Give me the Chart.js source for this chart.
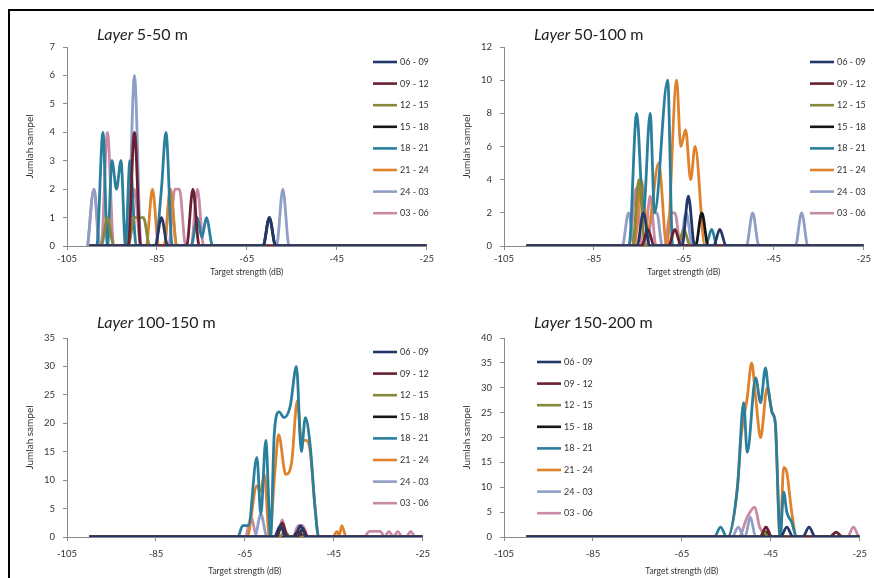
<!DOCTYPE html>
<html>
<head>
<meta charset="utf-8">
<script src="https://cdn.jsdelivr.net/npm/chart.js@4"></script>
<style>
  html, body { margin: 0; padding: 0; background: #fff; }
  #wrap { position: relative; width: 874px; height: 578px; overflow: hidden; background: #fff; }
  canvas { position: absolute; }
  #frame { position: absolute; left: 8px; top: 9px; width: 870px; height: 575px; border-top: 2px solid #000; border-left: 2px solid #000; pointer-events: none; }
</style>
</head>
<body>
<div id="wrap">
  <canvas id="c1" width="437" height="290" style="left:0;top:0"></canvas>
  <canvas id="c2" width="437" height="290" style="left:437px;top:0"></canvas>
  <canvas id="c3" width="437" height="288" style="left:0;top:290px"></canvas>
  <canvas id="c4" width="437" height="288" style="left:437px;top:290px"></canvas>
  <div id="frame"></div>
</div>
<script>
// ---------- categories / labels ----------
const seriesLabels = ['06 - 09', '09 - 12', '12 - 15', '15 - 18', '18 - 21', '21 - 24', '24 - 03', '03 - 06'];
const layerTitles = ['5-50 m', '50-100 m', '100-150 m', '150-200 m'];
const xTicks = [-105, -85, -65, -45, -25];
const yTicks1 = [0, 1, 2, 3, 4, 5, 6, 7];
const yTicks2 = [0, 2, 4, 6, 8, 10, 12];
const yTicks3 = [0, 5, 10, 15, 20, 25, 30, 35];
const yTicks4 = [0, 5, 10, 15, 20, 25, 30, 35, 40];

// ---------- Layer 5-50 m : [TS (dB), jumlah sampel] ----------
const p1_0609 = [[-100,0],[-85.4,0],[-84,1],[-82.6,0],[-61.4,0],[-60,1],[-58.6,0],[-25,0]];
const p1_0912 = [[-100,0],[-91.4,0],[-90,4],[-88.6,0],[-78.4,0],[-77,2],[-75.6,0],[-25,0]];
const p1_1215 = [[-100,0],[-97.4,0],[-96,1],[-94.6,0],[-91.4,0],[-90,1],[-89,1],[-88,1],[-86.6,0],[-25,0]];
const p1_1518 = [[-100,0],[-61.4,0],[-60,1],[-58.6,0],[-25,0]];
const p1_1821 = [[-100,0],[-98.4,0],[-97,4],[-96,0],[-95,3],[-94,2],[-93,3],[-92,0],[-91,3],[-89.6,0],[-85.4,0],[-84,2],[-83,4],[-81.6,0],[-77.4,0],[-76,1],[-75,0.3],[-74,1],[-72.6,0],[-25,0]];
const p1_2124 = [[-100,0],[-87.4,0],[-86,2],[-84.6,0],[-83.4,0],[-82,2],[-80.6,0],[-25,0]];
const p1_2403 = [[-100.4,0],[-99,2],[-97.6,0],[-91.5,0],[-90,6],[-88.5,0],[-83.4,0],[-82,2],[-80.6,0],[-58.4,0],[-57,2],[-55.6,0],[-25,0]];
const p1_0306 = [[-100.4,0],[-99,2],[-97.8,0],[-97.4,0],[-96,4],[-94.6,0],[-91.4,0],[-90,2],[-88.6,0],[-82.4,0],[-81,2],[-80,2],[-78.6,0],[-77.4,0],[-76,2],[-74.6,0],[-25,0]];

// ---------- Layer 50-100 m ----------
const p2_0609 = [[-100,0],[-75.4,0],[-74,2],[-72.6,0],[-65.4,0],[-64,3],[-62.6,0],[-58.4,0],[-57,1],[-55.6,0],[-25,0]];
const p2_0912 = [[-100,0],[-74.4,0],[-73,1],[-71.6,0],[-68.4,0],[-67,1],[-65.6,0],[-25,0]];
const p2_1215 = [[-100,0],[-76.4,0],[-75,4],[-73.6,0],[-66.4,0],[-65,1],[-63.6,0],[-25,0]];
const p2_1518 = [[-100,0],[-62.4,0],[-61,2],[-59.6,0],[-25,0]];
const p2_1821 = [[-100,0],[-77.2,0],[-75.5,8],[-74,2],[-72.5,8],[-71.5,2],[-68.6,10],[-67.5,0],[-60.2,0],[-58.8,1],[-57.6,0],[-25,0]];
const p2_2124 = [[-100,0],[-76,0],[-74.5,4],[-73,1],[-70.6,5],[-68.8,0],[-66.6,10],[-65.7,6],[-64.6,7],[-63.5,4],[-62.5,6],[-60.3,0],[-25,0]];
const p2_2403 = [[-100,0],[-78.7,0],[-77.3,2],[-75.9,0],[-73.2,0],[-72,2],[-71,2],[-69.8,0],[-65.9,0],[-64.5,2],[-63.1,0],[-51.1,0],[-49.7,2],[-48.3,0],[-40.2,0],[-38.8,2],[-37.4,0],[-25,0]];
const p2_0306 = [[-100,0],[-77.2,0],[-75.6,3.5],[-74.3,0],[-73.8,0],[-72.5,3],[-71.2,0],[-69.3,0],[-68,2],[-67,2],[-65.7,0],[-25,0]];

// ---------- Layer 100-150 m ----------
const p3_0609 = [[-100,0],[-58.4,0],[-57,2],[-55.8,0],[-53.8,0],[-52.5,2],[-51.2,0],[-25,0]];
const p3_0912 = [[-100,0],[-57.8,0],[-56.6,2.5],[-55.4,0],[-53.2,0],[-52,1.5],[-50.8,0],[-25,0]];
const p3_1215 = [[-100,0],[-57.2,0],[-56,1],[-54.8,0],[-25,0]];
const p3_1518 = [[-100,0],[-54.2,0],[-53,1],[-51.8,0],[-25,0]];
const p3_1821 = [[-100,0],[-66.6,0],[-65.5,2],[-64.2,2],[-62.3,14],[-61.4,4],[-60.3,17],[-59.2,0],[-58.4,18],[-57.3,22],[-56.2,21],[-54.8,23],[-53.4,30],[-52.3,15],[-51.4,21],[-50.3,16],[-49.2,5],[-48.4,0],[-25,0]];
const p3_2124 = [[-100,0],[-64.5,0],[-62.3,9],[-61.5,8],[-60.6,11],[-59.5,0],[-58.2,12],[-57.4,18],[-55.8,11],[-54.5,13],[-53.2,24],[-52.3,17],[-51.2,17],[-50.3,15],[-49.2,5],[-48.4,0],[-45.2,0],[-44.3,1],[-43.8,0.3],[-43.2,2],[-42.2,0],[-25,0]];
const p3_2403 = [[-100,0],[-62.8,0],[-61.4,4],[-60,0],[-25,0]];
const p3_0306 = [[-100,0],[-64.9,0],[-63.6,3.5],[-62.3,0],[-57.8,0],[-56.6,3],[-55.4,0],[-54.2,0],[-53,2],[-52,2],[-50.8,0],[-38.2,0],[-37,1],[-34.5,1],[-33.6,0],[-32.6,1],[-31.6,0],[-30.6,1],[-29.6,0],[-28.7,0],[-27.7,1],[-26.7,0],[-25,0]];

// ---------- Layer 150-200 m ----------
const p4_0609 = [[-100,0],[-42.8,0],[-41.4,2],[-40,0],[-37.8,0],[-36.4,2],[-35,0],[-25,0]];
const p4_0912 = [[-100,0],[-47.4,0],[-46.1,2],[-44.8,0],[-31.7,0],[-30.3,1],[-28.9,0],[-25,0]];
const p4_1215 = [[-100,0],[-47.4,0],[-46.5,1],[-45.6,0],[-25,0]];
const p4_1518 = [[-100,0],[-47.2,0],[-46,1],[-44.8,0],[-25,0]];
const p4_1821 = [[-100,0],[-57.7,0],[-56.3,2],[-54.9,0],[-54.7,0],[-52.5,10],[-51.1,27],[-50.3,17],[-48.4,32],[-47.3,27],[-46.2,34],[-45.6,30],[-44.7,25],[-44,23],[-42.9,0],[-42.1,9],[-41.4,5],[-40.3,3],[-39.2,0],[-25,0]];
const p4_2124 = [[-100,0],[-54.7,0],[-52.5,10],[-51.7,20],[-50.3,28],[-49.3,35],[-48.4,28],[-47.3,20],[-45.8,30],[-44.7,25],[-44,23],[-42.9,0],[-42.1,14],[-41.4,13],[-40.3,5],[-39.2,0],[-25,0]];
const p4_2403 = [[-100,0],[-53.7,0],[-52.3,2],[-51,0],[-50.8,0],[-49.6,4],[-48.4,0],[-25,0]];
const p4_0306 = [[-100,0],[-52.2,0],[-50.3,4],[-48.6,6],[-47.5,2],[-46.6,1],[-46,2],[-44.8,0],[-27.8,0],[-26.4,2],[-25.1,0],[-25,0]];

// ---------- styling ----------
const COLORS = ['#22386a', '#6a2030', '#86883c', '#161616', '#2a7f9c', '#e0822c', '#8f9ec6', '#c98aa6'];
const FONT = 'Lato, "Open Sans", sans-serif';
const TXT = '#333';
const AX = '#8a8a8a';

const overlay = {
  id: 'overlay',
  afterDraw(chart, args, o) {
    const ctx = chart.ctx;
    ctx.save();
    ctx.fillStyle = '#222';
    ctx.textBaseline = 'middle';
    ctx.textAlign = 'left';
    ctx.font = 'italic 16px ' + FONT;
    ctx.fillText('Layer', o.titleX, o.titleY);
    const w = ctx.measureText('Layer ').width;
    ctx.font = '16px ' + FONT;
    ctx.fillText(o.range, o.titleX + w, o.titleY);
    ctx.font = '9px ' + FONT;
    ctx.fillStyle = TXT;
    chart.data.datasets.forEach((ds, i) => {
      const y = o.legY + i * o.legStep;
      ctx.strokeStyle = ds.borderColor;
      ctx.lineWidth = 2.6;
      ctx.beginPath();
      ctx.moveTo(o.legX, y);
      ctx.lineTo(o.legX + 24, y);
      ctx.stroke();
      ctx.fillText(ds.label, o.legX + 27, y);
    });
    ctx.restore();
  }
};

function makeChart(id, range, series, yTicks, geo) {
  const yMax = yTicks[yTicks.length - 1];
  return new Chart(document.getElementById(id), {
    type: 'line',
    data: {
      datasets: series.map((s, i) => ({
        label: seriesLabels[i],
        data: s.map(p => ({ x: p[0], y: p[1] })),
        borderColor: COLORS[i],
        backgroundColor: COLORS[i],
        borderWidth: 2.8,
        pointRadius: 0,
        fill: false,
        cubicInterpolationMode: 'monotone'
      }))
    },
    options: {
      responsive: false,
      animation: false,
      devicePixelRatio: 1,
      layout: { padding: { left: 20, right: 10, top: geo.top, bottom: geo.bottom } },
      plugins: {
        legend: { display: false },
        tooltip: { enabled: false },
        overlay: { range: range, titleX: 97, titleY: geo.titleY, legX: geo.legX, legY: geo.legY, legStep: 21.6 }
      },
      scales: {
        x: {
          type: 'linear', min: -105, max: -25,
          afterBuildTicks: s => { s.ticks = xTicks.map(v => ({ value: v })); },
          afterFit: s => { s.height = geo.xh; },
          grid: { drawOnChartArea: false, tickLength: 4, color: AX },
          border: { color: AX, width: 1 },
          ticks: { font: { family: FONT, size: 9.5 }, color: TXT, padding: geo.xpad, maxRotation: 0 },
          title: { display: true, text: 'Target strength (dB)', font: { family: FONT, size: 8.5 }, color: TXT, padding: 0 }
        },
        y: {
          min: 0, max: yMax,
          afterBuildTicks: s => { s.ticks = yTicks.map(v => ({ value: v })); },
          afterFit: s => { s.width = 47; },
          grid: { drawOnChartArea: false, tickLength: 4, color: AX },
          border: { color: AX, width: 1 },
          ticks: { font: { family: FONT, size: 9.5 }, color: TXT, padding: 8 },
          title: { display: true, text: 'Jumlah sampel', font: { family: FONT, size: 10 }, color: TXT, padding: { top: 4, bottom: 0 } }
        }
      }
    },
    plugins: [overlay]
  });
}

const geoTop = { top: 47, bottom: 12.6, xh: 31.4, xpad: 3, titleY: 35, legX: 373, legY: 62 };
const geoBot = { top: 48, bottom: 2, xh: 39, xpad: 7, titleY: 33, legX: 373, legY: 62 };

makeChart('c1', layerTitles[0], [p1_0609, p1_0912, p1_1215, p1_1518, p1_1821, p1_2124, p1_2403, p1_0306], yTicks1, geoTop);
makeChart('c2', layerTitles[1], [p2_0609, p2_0912, p2_1215, p2_1518, p2_1821, p2_2124, p2_2403, p2_0306], yTicks2, geoTop);
makeChart('c3', layerTitles[2], [p3_0609, p3_0912, p3_1215, p3_1518, p3_1821, p3_2124, p3_2403, p3_0306], yTicks3, geoBot);
makeChart('c4', layerTitles[3], [p4_0609, p4_0912, p4_1215, p4_1518, p4_1821, p4_2124, p4_2403, p4_0306], yTicks4, Object.assign({}, geoBot, { legX: 100, legY: 72 }));
</script>
</body>
</html>
